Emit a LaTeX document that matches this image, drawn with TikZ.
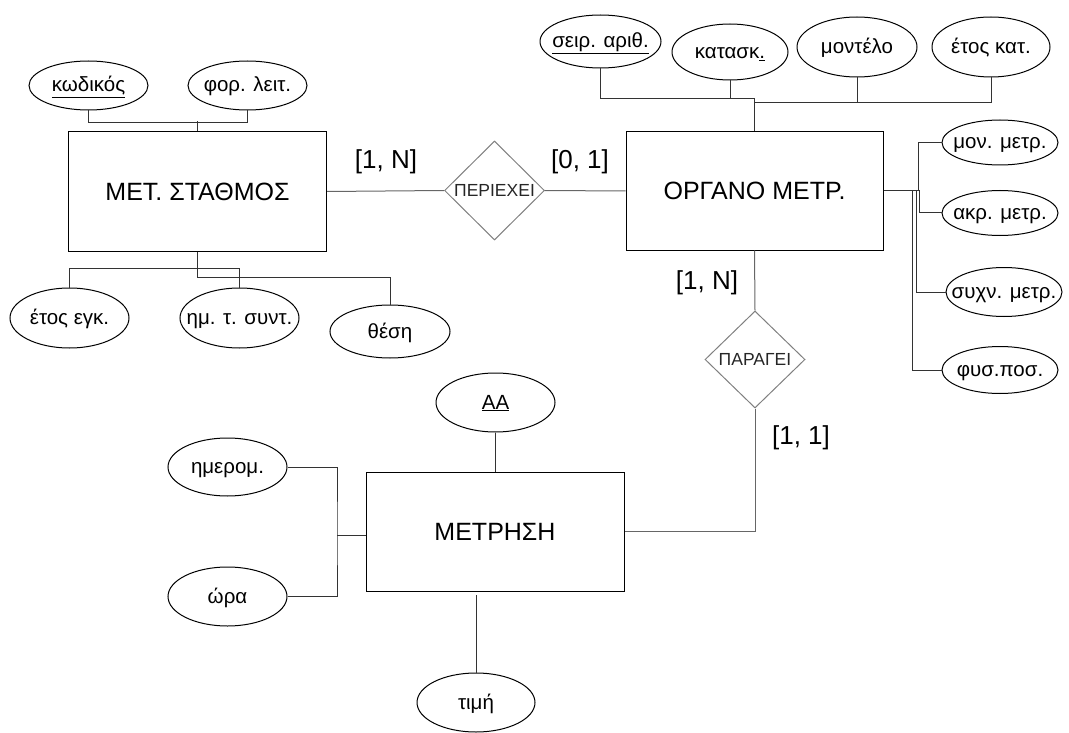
\documentclass[tikz,border=0pt]{standalone}
\usepackage{fontspec}
\setmainfont{Liberation Sans}
\usetikzlibrary{shapes.geometric}

\tikzset{
  entity/.style={draw, rectangle, minimum width=258pt, minimum height=119pt, inner sep=0pt, font=\fontsize{25}{29}\selectfont},
  attrib/.style={draw, ellipse, minimum width=119pt, minimum height=50pt, inner xsep=-30pt, inner ysep=0pt, text height=16pt, text depth=3pt, font=\fontsize{20.5}{24}\selectfont},
  relship/.style={draw=black!50, diamond, minimum width=100pt, minimum height=99pt, inner xsep=-40pt, inner ysep=0pt, text=black!85, font=\fontsize{17.5}{20}\selectfont},
  card/.style={inner sep=0pt, font=\fontsize{26}{30}\selectfont},
  link/.style={draw=black!80},
  rellink/.style={draw=black!60}
}

\begin{document}
\begin{tikzpicture}[x=1pt, y=-1pt, line width=1pt]
    \useasboundingbox (0,0) rectangle (1069,733);
    \node[entity] (stat) at (197.5,191.5) {ΜΕΤ. ΣΤΑΘΜΟΣ};
    \node[entity, minimum width=257pt, minimum height=118pt] (org) at (754.5,191) {ΟΡΓΑΝΟ ΜΕΤΡ.};
    \node[entity] (mes) at (495,531.5) {ΜΕΤΡΗΣΗ};
    \node[relship] (per) at (494.5,190.5) {ΠΕΡΙΕΧΕΙ};
    \node[relship, minimum height=97pt] (par) at (755,359.5) {ΠΑΡΑΓΕΙ};
    \node[attrib, minimum height=49pt] (kod) at (88.5,85.5) {\underline{κωδικός}};
    \node[attrib, minimum height=49pt] (for) at (247.5,85.5) {φορ. λειτ.};
    \node[attrib, minimum height=60pt] (eteg) at (69.5,318) {έτος εγκ.};
    \node[attrib, minimum height=60pt] (hmts) at (239.5,318) {ημ. τ. συντ.};
    \node[attrib, minimum width=120pt, minimum height=53pt] (thes) at (390,331.5) {θέση};
    \node[attrib, minimum width=121pt, minimum height=53pt] (ser) at (600.5,41.5) {\underline{σειρ. αριθ.}};
    \node[attrib, minimum width=116pt, minimum height=56pt] (kat) at (730,52) {κατασκ\underline{.}};
    \node[attrib, minimum width=120pt, minimum height=60pt] (mon) at (857,47) {μοντέλο};
    \node[attrib, minimum width=118pt, minimum height=60pt] (etk) at (991,47) {έτος κατ.};
    \node[attrib, minimum width=116pt, minimum height=45pt] (mm) at (1000,142.5) {μον. μετρ.};
    \node[attrib, minimum width=116pt, minimum height=45pt] (am) at (1000,213) {ακρ. μετρ.};
    \node[attrib, minimum width=116pt, minimum height=49pt] (sm) at (1004,292) {συχν. μετρ.};
    \node[attrib, minimum width=116pt, minimum height=47pt] (fp) at (1000,370) {φυσ.ποσ.};
    \node[attrib, minimum height=59pt] (aa) at (495.5,402.5) {\underline{ΑΑ}};
    \node[attrib, minimum height=58pt] (hm) at (227.5,467) {ημερομ.};
    \node[attrib, minimum height=59pt] (ora) at (227.5,596.5) {ώρα};
    \node[attrib, minimum width=118pt, minimum height=59pt] (tim) at (476,702.5) {τιμή};
    \node[card] (c1) at (386,161.5) {[1, N]};
    \node[card] (c2) at (580,162) {[0, 1]};
    \node[card] (c3) at (707,282.5) {[1, N]};
    \node[card] (c4) at (801,438) {[1, 1]};
    \coordinate (oj1) at (754.5,99);
    \coordinate (oj2) at (754.5,103);
    \coordinate (mj) at (337,535);
    \draw[link] (kod.south) -- ++(0,12) -| (for.south);
    \draw[link] (stat.north) -- ++(0,-10);
    \draw[link] (stat.south) -- ++(0,26) -| (thes.north);
    \draw[link] (eteg.north) -- ++(0,-19) -| (hmts.north);
    \draw[link] (ser.south) |- (oj1) -- (org.north);
    \draw[link] (kat.south) -- (kat.south |- oj1);
    \draw[link] (etk.south) |- (oj2);
    \draw[link] (mon.south) -- (mon.south |- oj2);
    \draw[link] (org.east) -- ++(35,0) |- (mm.west);
    \draw[link] (org.east) -- ++(36,0) |- (am.west);
    \draw[link] (org.east) -- ++(33,0) |- (sm.west);
    \draw[link] (org.east) -- ++(29,0) |- (fp.west);
    \draw[rellink] (stat.east) -- (per.west);
    \draw[rellink] (per.east) -- (org.west);
    \draw[rellink] (org.south) -- (par.north);
    \draw[rellink] (par.south) |- (mes.east);
    \draw[link] (aa.south) -- (aa.south |- mes.north);
    \draw[link] (hm.east) -| (mj) |- (ora.east);
    \draw[link] (mj) -- (mj -| mes.west);
    \draw[link] (tim.north) -- ++(0,-78);
\end{tikzpicture}
\end{document}
